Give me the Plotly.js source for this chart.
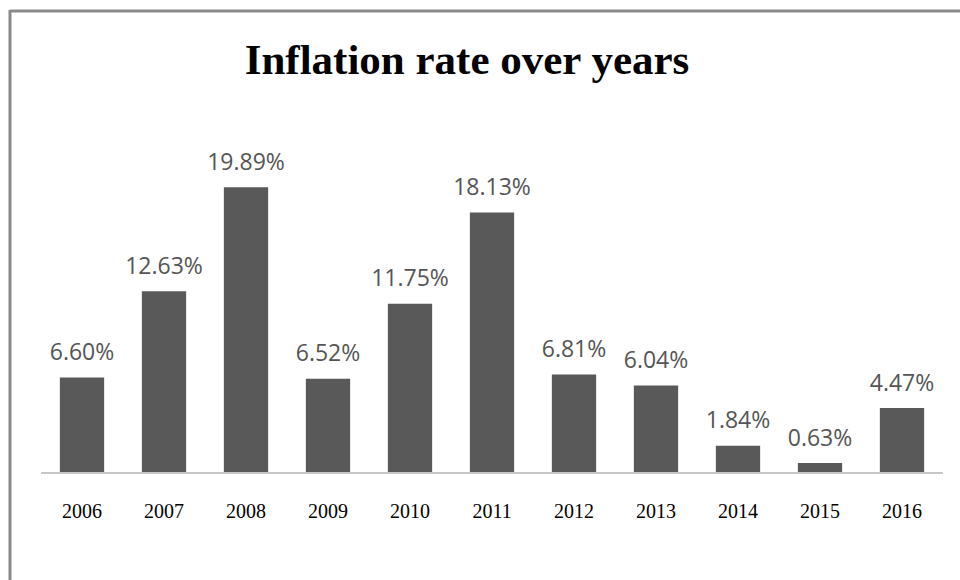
<!DOCTYPE html>
<html>
<head>
<meta charset="utf-8">
<script src="https://cdn.plot.ly/plotly-3.0.1.min.js"></script>
<style>
  html, body { margin: 0; padding: 0; background: #fff; }
  #chart { width: 960px; height: 580px; }
</style>
</head>
<body>
<div id="chart"></div>
<script>
const years = ['2006', '2007', '2008', '2009', '2010', '2011', '2012', '2013', '2014', '2015', '2016'];
const inflation = [6.60, 12.63, 19.89, 6.52, 11.75, 18.13, 6.81, 6.04, 1.84, 0.63, 4.47];
const labels = inflation.map(v => v.toFixed(2) + '%');

const W = 960, H = 580;
const mL = 41, mR = 17, mT = 157, mB = 108;
const plotW = W - mL - mR, plotH = H - mT - mB;
const px = x => (x - mL) / plotW;
const py = y => (H - mB - y) / plotH;

const bars = {
  type: 'bar',
  x: years,
  y: inflation,
  marker: { color: '#595959', line: { width: 0 } },
  hoverinfo: 'skip'
};

const valueLabels = {
  type: 'scatter',
  mode: 'markers+text',
  x: years,
  y: inflation,
  text: labels,
  textposition: 'top center',
  textfont: { family: 'Open Sans, sans-serif', size: 23, color: '#555555' },
  marker: { size: 17, opacity: 0 },
  cliponaxis: false,
  hoverinfo: 'skip'
};

const layout = {
  width: W, height: H,
  margin: { l: mL, r: mR, t: mT, b: mB, pad: 0 },
  paper_bgcolor: '#ffffff', plot_bgcolor: '#ffffff',
  title: {
    text: '<b>Inflation rate over years</b>',
    font: { family: 'Liberation Serif, Times New Roman, serif', size: 43, color: '#000000' },
    xref: 'container', yref: 'container',
    x: 467 / W, xanchor: 'center',
    y: 1 - 59 / H, yanchor: 'middle'
  },
  bargap: 0.46,
  showlegend: false,
  xaxis: {
    type: 'category',
    range: [-0.5, 10.5],
    showline: true, linecolor: '#c8c8c8', linewidth: 2,
    showgrid: false, zeroline: false,
    ticks: '', ticklabelstandoff: 20,
    tickfont: { family: 'Liberation Serif, Times New Roman, serif', size: 20, color: '#000000' }
  },
  yaxis: {
    range: [0, 22],
    showticklabels: false, showline: false, ticks: '',
    showgrid: false, zeroline: false
  },
  shapes: [
    { type: 'line', xref: 'paper', yref: 'paper', x0: px(10), x1: px(962), y0: py(11), y1: py(11),
      line: { color: '#8a8a8a', width: 3 } },
    { type: 'line', xref: 'paper', yref: 'paper', x0: px(10), x1: px(10), y0: py(10), y1: py(582),
      line: { color: '#8a8a8a', width: 3 } }
  ]
};

Plotly.newPlot('chart', [bars, valueLabels], layout, { displayModeBar: false, staticPlot: true });
</script>
</body>
</html>
